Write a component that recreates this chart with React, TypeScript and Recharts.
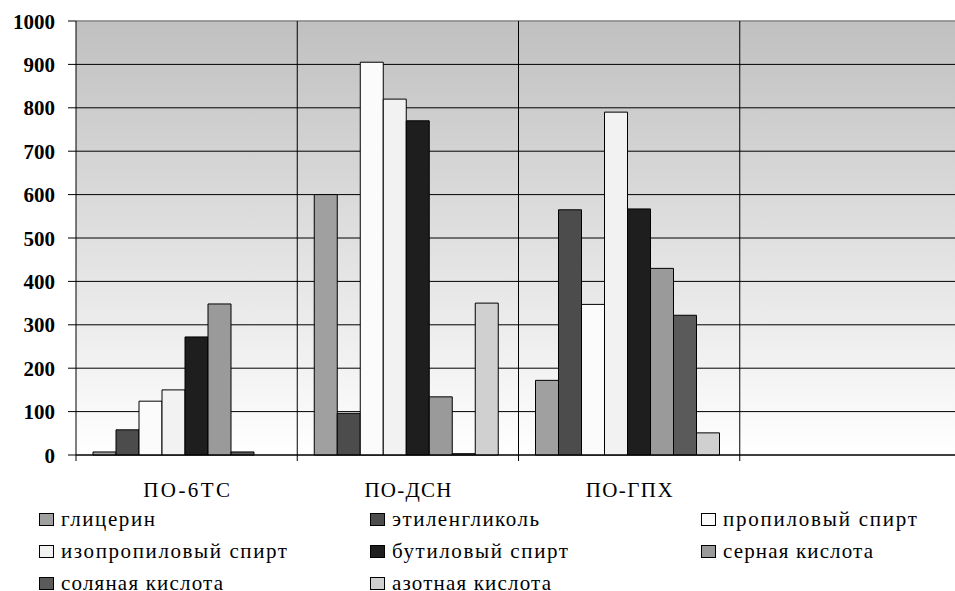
import React from 'react';
import { BarChart, Bar, XAxis, YAxis, CartesianGrid, ReferenceLine, Legend } from 'recharts';

// Categories (the fourth slot is an empty group on the axis)
const categories = ['ПО-6ТС', 'ПО-ДСН', 'ПО-ГПХ', ''];

// Series names in legend order
const seriesNames = [
  'глицерин',
  'этиленгликоль',
  'пропиловый спирт',
  'изопропиловый спирт',
  'бутиловый спирт',
  'серная кислота',
  'соляная кислота',
  'азотная кислота',
];

// Values per category
const glycerin = [7, 600, 172, null];
const ethyleneGlycol = [58, 96, 565, null];
const propanol = [124, 905, 347, null];
const isopropanol = [150, 820, 790, null];
const butanol = [272, 770, 567, null];
const sulfuricAcid = [348, 134, 430, null];
const hydrochloricAcid = [7, 3, 322, null];
const nitricAcid = [0, 350, 51, null];

const yTicks = [0, 100, 200, 300, 400, 500, 600, 700, 800, 900, 1000];

const seriesValues = [
  glycerin,
  ethyleneGlycol,
  propanol,
  isopropanol,
  butanol,
  sulfuricAcid,
  hydrochloricAcid,
  nitricAcid,
];

const seriesColors = ['#a0a0a0', '#4c4c4c', '#fbfbfb', '#f2f2f2', '#1e1e1e', '#9a9a9a', '#5a5a5a', '#d0d0d0'];

const data = categories.map((name, i) => {
  const row: Record<string, any> = { name };
  seriesValues.forEach((vals, s) => {
    row[`s${s}`] = vals[i];
  });
  return row;
});

const FONT = 'Liberation Serif';

// Horizontal extents of the category labels and legend entries
const categoryLabelWidth = 87;
const legendTextWidths = [94, 147, 194, 226, 176, 150, 162, 159];

const CategoryTick = (props: any) => {
  const { x, y, payload } = props;
  const half = payload && typeof payload.offset === 'number' ? payload.offset : 0;
  const left = x - half;
  return (
    <g>
      <line x1={left} x2={left} y1={y - 6} y2={y} stroke="#000" strokeWidth={1} />
      {payload.value ? (
        <text
          x={x - categoryLabelWidth / 2}
          y={y + 36}
          fontFamily={FONT}
          fontSize={21}
          fill="#000"
          textLength={categoryLabelWidth}
          lengthAdjust="spacing"
        >
          {payload.value}
        </text>
      ) : null}
    </g>
  );
};

const YTick = (props: any) => {
  const { x, y, payload } = props;
  return (
    <text x={x} y={y} dy="0.36em" textAnchor="end" fontFamily={FONT} fontSize={21} fontWeight="bold" fill="#000">
      {payload.value}
    </text>
  );
};

const LegendContent = () => {
  const colX = [39, 370, 701];
  const rowY = [520, 552, 584];
  return (
    <svg width={955} height={91} style={{ display: 'block' }}>
      {seriesNames.map((name, i) => {
        const col = i % 3;
        const row = Math.floor(i / 3);
        const bx = colX[col];
        const cy = rowY[row] - 500;
        return (
          <g key={name}>
            <rect x={bx + 0.5} y={cy - 6.5} width={14} height={12} fill={seriesColors[i]} stroke="#000" strokeWidth={1} />
            <text
              x={bx + 22}
              y={cy + 6}
              fontFamily={FONT}
              fontSize={21}
              fill="#000"
              textLength={legendTextWidths[i]}
              lengthAdjust="spacing"
            >
              {name}
            </text>
          </g>
        );
      })}
    </svg>
  );
};

export default function App() {
  return (
    <div
      style={{
        position: 'absolute',
        left: 0,
        top: 0,
        width: 955,
        height: 591,
        overflow: 'hidden',
        background: '#fff',
        fontFamily: "'Liberation Serif', serif",
      }}
    >
      <BarChart
        width={975}
        height={591}
        data={data}
        margin={{ top: 21, right: 14, left: 0, bottom: 0 }}
        barCategoryGap={17}
        barGap={0}
      >
        <defs>
          <linearGradient id="plotBg" x1="0" y1="0" x2="0" y2="1">
            <stop offset="0%" stopColor="#c0c0c0" />
            <stop offset="100%" stopColor="#ffffff" />
          </linearGradient>
        </defs>
        <CartesianGrid horizontal vertical={false} stroke="#000" strokeWidth={1} fill="url(#plotBg)" fillOpacity={1} />
        <ReferenceLine y={1000} stroke="#a8a8a8" strokeWidth={1.5} />
        {categories.slice(1).map((c, i) => (
          <ReferenceLine key={`v${i}`} x={c} position="start" stroke="#000" strokeWidth={1} />
        ))}
        <XAxis
          dataKey="name"
          height={136}
          axisLine={{ stroke: '#000', strokeWidth: 1 }}
          tickLine={false}
          tickSize={6}
          tickMargin={0}
          interval={0}
          tick={<CategoryTick />}
        />
        <YAxis
          width={76}
          domain={[0, 1000]}
          ticks={yTicks}
          interval={0}
          axisLine={{ stroke: '#000', strokeWidth: 1 }}
          tickLine={{ stroke: '#000', strokeWidth: 1 }}
          tickSize={8}
          tickMargin={13}
          tick={<YTick />}
        />
        <Legend
          layout="horizontal"
          verticalAlign="middle"
          align="center"
          wrapperStyle={{ position: 'absolute', left: 0, top: 500, width: 955, height: 91 }}
          content={<LegendContent />}
        />
        {seriesNames.map((name, s) => (
          <Bar
            key={name}
            dataKey={`s${s}`}
            name={name}
            fill={seriesColors[s]}
            stroke="#000"
            strokeWidth={1}
            isAnimationActive={false}
          />
        ))}
      </BarChart>
    </div>
  );
}
